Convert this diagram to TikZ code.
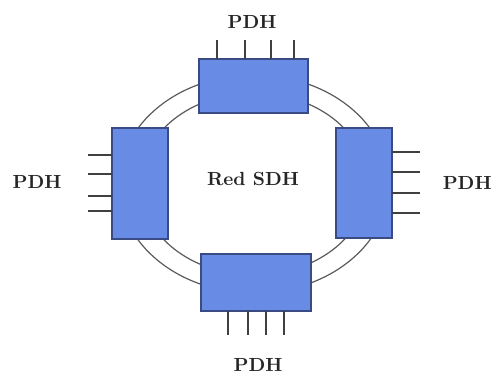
\documentclass[tikz,border=0pt]{standalone}
\usepackage{tikz}
\usepackage{xcolor}
\usetikzlibrary{
  arrows.meta,
  positioning
}
\definecolor{muxblue}{RGB}{104,140,230}
\definecolor{muxedge}{RGB}{58,74,130}
\definecolor{ringgray}{RGB}{90,90,90}
\tikzset{
  line cap=round,
  line join=round,
  muxbox/.style={draw=muxedge, fill=muxblue, line width=0.6pt, inner sep=0pt},
  ring/.style={draw=ringgray, line width=0.6pt},
  tick/.style={draw=black!75, line width=0.6pt},
  pdh/.style={font=\fontsize{9.5}{11}\selectfont\bfseries, text=black!85}
}

\begin{document}
\begin{tikzpicture}[x=0.5pt, y=-0.5pt]
  \useasboundingbox (0,0) rectangle (494,374);
  \def\ra{67.5pt}
  \def\rb{54.5pt}
  \def\ri{57pt}
  \def\rj{45.5pt}

  % anillo
  \coordinate (centro) at (254,184);
  \draw[ring] (centro) ellipse [x radius=\ra, y radius=\rb];
  \draw[ring] (centro) ellipse [x radius=\ri, y radius=\rj];

  % multiplexores
  \node[muxbox, minimum width=54.5pt, minimum height=27pt] (arriba) at (253.5,86) {};
  \node[muxbox, minimum width=28pt, minimum height=55.5pt] (izq) at (140,183.5) {};
  \node[muxbox, minimum width=28pt, minimum height=55pt] (der) at (364,183) {};
  \node[muxbox, minimum width=55pt, minimum height=28.5pt] (abajo) at (256,282.5) {};

  % tributarios
  \foreach \x in {217,245,271,294}
    \draw[tick] (\x,59) -- (\x,40);
  \foreach \y in {155,174,196,211}
    \draw[tick] (112,\y) -- (88,\y);
  \foreach \y in {152,172,193,213}
    \draw[tick] (392,\y) -- (420,\y);
  \foreach \x in {228,248,266,284}
    \draw[tick] (\x,311) -- (\x,335);

  \node[pdh] (pdharriba) at (252,22) {PDH};
  \node[pdh] (pdhizq) at (37,182) {PDH};
  \node[pdh, anchor=east, inner sep=1pt] (pdhder) at (494,183) {PDH};
  \node[pdh] (pdhabajo) at (258,365) {PDH};
  \node[pdh] (red) at (253,179) {Red SDH};
\end{tikzpicture}
\end{document}
